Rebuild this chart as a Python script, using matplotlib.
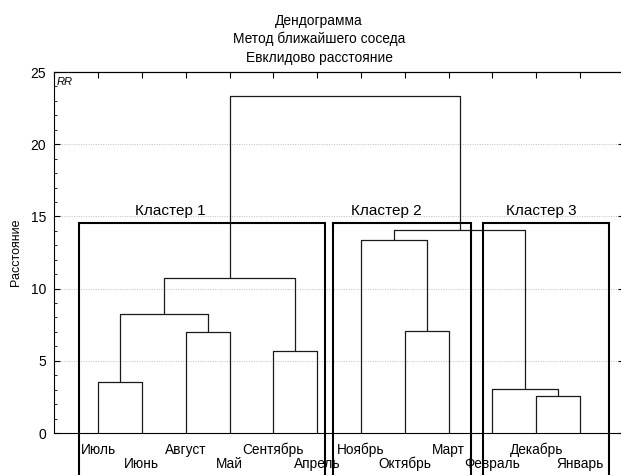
import matplotlib
matplotlib.use("Agg")
import matplotlib.pyplot as plt
from matplotlib.ticker import MultipleLocator, FixedLocator, FixedFormatter

plt.rcParams['font.family'] = ['Liberation Sans', 'DejaVu Sans']

# ---- data ----
leaves = ["Июль", "Июнь", "Август", "Май", "Сентябрь", "Апрель",
          "Ноябрь", "Октябрь", "Март", "Февраль", "Декабрь", "Январь"]
# merges: (child_a, child_b, height); ids >= len(leaves) refer to earlier merges
merge_a = [0, 10, 9, 4, 2, 7, 12, 18, 6, 20, 19]
merge_b = [1, 11, 13, 5, 3, 8, 16, 15, 17, 14, 21]
merge_h = [3.55, 2.58, 3.07, 5.68, 7.02, 7.08, 8.22, 10.73, 13.39, 14.08, 23.34]

clusters = ["Кластер 1", "Кластер 2", "Кластер 3"]
cluster_first = [0, 6, 9]   # first leaf index in cluster
cluster_last = [5, 8, 11]   # last leaf index in cluster
cluster_top = 14.56

yticks = [0, 5, 10, 15, 20, 25]
title_lines = ["Дендограмма", "Метод ближайшего соседа", "Евклидово расстояние"]

# ---- figure ----
fig = plt.figure(figsize=(6.21, 4.75), dpi=100)
ax = fig.add_axes([0.0873, 0.0884, 0.9174, 0.76])
ax.set_xlim(0, len(leaves) + 1)
ax.set_ylim(0, 25)

# dendrogram
xpos = {i: i + 1 for i in range(len(leaves))}
ypos = {i: 0.0 for i in range(len(leaves))}
line_kw = dict(color='#1a1a1a', lw=0.9, solid_capstyle='butt')
for k, (a, b, h) in enumerate(zip(merge_a, merge_b, merge_h)):
    nid = len(leaves) + k
    xa, xb = xpos[a], xpos[b]
    ax.plot([xa, xa, xb, xb], [ypos[a], h, h, ypos[b]], **line_kw)
    xpos[nid] = (xa + xb) / 2
    ypos[nid] = h

# cluster boxes
pad_l = [0.43, 0.645, 0.22]
pad_r = [0.18, 0.505, 0.67]
lab_off = [-0.73, -0.35, -0.12]
for name, f, l, pl, pr, lo in zip(clusters, cluster_first, cluster_last, pad_l, pad_r, lab_off):
    x0 = xpos[f] - pl
    x1 = xpos[l] + pr
    ax.plot([x0, x0, x1, x1], [-5, cluster_top, cluster_top, -5], color='black',
            lw=1.5, clip_on=False, solid_joinstyle='miter')
    ax.text((x0 + x1) / 2 + lo, cluster_top + 0.55, name, ha='center', va='baseline',
            fontsize=11)

# axes styling
ax.set_yticks(yticks)
ax.yaxis.set_minor_locator(MultipleLocator(1))

# leaf labels in two alternating rows (major = first row, minor = second row)
even = [i for i in range(len(leaves)) if i % 2 == 0]
odd = [i for i in range(len(leaves)) if i % 2 == 1]
ax.xaxis.set_major_locator(FixedLocator([xpos[i] for i in even]))
ax.xaxis.set_major_formatter(FixedFormatter([leaves[i] for i in even]))
ax.xaxis.set_minor_locator(FixedLocator([xpos[i] for i in odd]))
ax.xaxis.set_minor_formatter(FixedFormatter([leaves[i] for i in odd]))
ax.tick_params(axis='x', which='major', bottom=False, top=False, pad=3.5, labelsize=9.8)
ax.tick_params(axis='x', which='minor', bottom=False, top=False, pad=15.3, labelsize=9.8)

ax.tick_params(axis='y', which='major', direction='in', length=4, width=0.8,
               labelsize=10, right=True, pad=6)
ax.tick_params(axis='y', which='minor', direction='in', length=2.5, width=0.6, right=True)

# top ticks at each integer
sec = ax.secondary_xaxis('top')
sec.set_xticks(range(0, len(leaves) + 2))
sec.tick_params(direction='in', length=4, width=0.8, labeltop=False)
sec.spines['top'].set_linewidth(0.8)

for s in ax.spines.values():
    s.set_linewidth(0.8)

ax.grid(axis='y', which='major', color='#bdbdbd', linestyle=(0, (1, 1.5)), lw=0.7)
ax.set_axisbelow(True)

ax.set_ylabel("Расстояние", fontsize=9, labelpad=6)
ax.text(0.004, 0.985, "RR", transform=ax.transAxes, ha='left', va='top',
        fontsize=8, style='italic')

for i, t in enumerate(title_lines):
    fig.text(0.514, 1 - (20.7 + 18.5 * i) / 475, t, ha='center', va='center', fontsize=9.9)

fig.savefig("out.png", dpi=100)
